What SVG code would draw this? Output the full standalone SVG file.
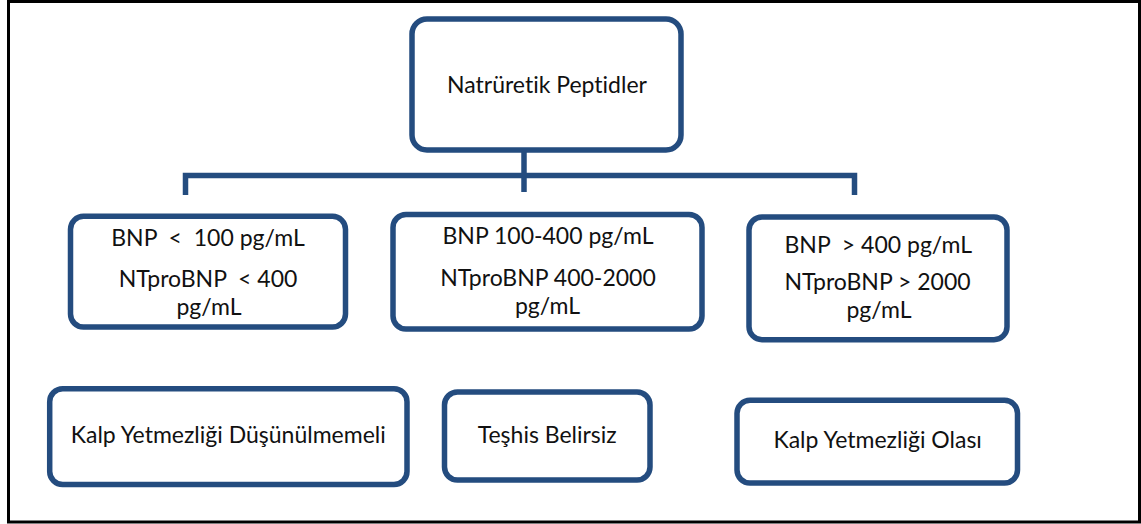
<svg xmlns="http://www.w3.org/2000/svg" width="1141" height="524" viewBox="0 0 1141 524">
<style>
.box{fill:#fff;stroke:#244C7F;stroke-width:5.5}
.t{font-family:Lato,"Open Sans","Liberation Sans",sans-serif;font-size:23px;fill:#111;text-anchor:middle;white-space:pre;font-variant-ligatures:none}
.c{fill:none;stroke:#244C7F;stroke-width:5.5}
</style>
<rect x="0" y="0" width="1141" height="524" fill="#fff"/>
<rect x="8.5" y="1.5" width="1131" height="520.5" fill="none" stroke="#000" stroke-width="3"/>
<g id="connectors">
<path class="c" d="M185.5 195 V175.5 H854.5 V195"/>
<path class="c" d="M524 128 V192"/>
</g>
<g id="n-root">
<rect class="box" x="412" y="19" width="269" height="131" rx="15"/>
<text class="t" x="547" y="93">Natrüretik Peptidler</text>
</g>
<g id="n-low">
<rect class="box" x="70.5" y="216.3" width="275" height="110.7" rx="13"/>
<text class="t" x="208" y="246" xml:space="preserve">BNP  &lt;  100 pg/mL</text>
<text class="t" x="208" y="286.7" xml:space="preserve">NTproBNP  &lt; 400</text>
<text class="t" x="209" y="315">pg/mL</text>
</g>
<g id="n-mid">
<rect class="box" x="393" y="214.5" width="309" height="114.5" rx="13"/>
<text class="t" x="548" y="244.3">BNP 100-400 pg/mL</text>
<text class="t" x="548" y="285.7">NTproBNP 400-2000</text>
<text class="t" x="547.5" y="314.3">pg/mL</text>
</g>
<g id="n-high">
<rect class="box" x="749" y="217" width="258" height="122.7" rx="13"/>
<text class="t" x="878.3" y="253.3" xml:space="preserve">BNP  &gt; 400 pg/mL</text>
<text class="t" x="877.5" y="290">NTproBNP &gt; 2000</text>
<text class="t" x="879" y="318.3">pg/mL</text>
</g>
<g id="r-low">
<rect class="box" x="49.7" y="388.7" width="357.3" height="95.8" rx="13"/>
<text class="t" x="228.3" y="442.7">Kalp Yetmezliği Düşünülmemeli</text>
</g>
<g id="r-mid">
<rect class="box" x="444.5" y="392" width="205.5" height="88" rx="13"/>
<text class="t" x="547.2" y="442.7">Teşhis Belirsiz</text>
</g>
<g id="r-high">
<rect class="box" x="737" y="400.3" width="280.5" height="82.7" rx="13"/>
<text class="t" x="877.7" y="448.3">Kalp Yetmezliği Olası</text>
</g>
</svg>
